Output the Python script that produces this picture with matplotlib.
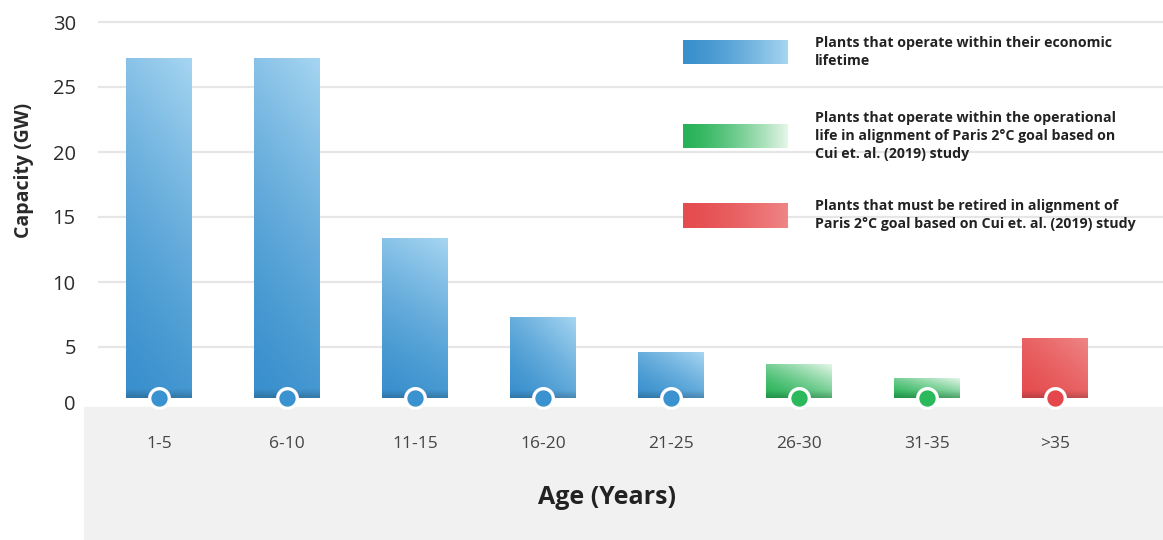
import numpy as np
import matplotlib.pyplot as plt
from matplotlib import colors as mcolors
from matplotlib.patches import Rectangle
import matplotlib.transforms as mtransforms

# coal plant capacity by age group
age_groups = ['1-5', '6-10', '11-15', '16-20', '21-25', '26-30', '31-35', '>35']
capacity_gw = [27.2, 27.2, 13.4, 7.3, 4.6, 3.7, 2.6, 5.7]
status = ['econ', 'econ', 'econ', 'econ', 'econ', 'paris', 'paris', 'retire']

legend_labels = {
    'econ': 'Plants that operate within their economic\nlifetime',
    'paris': 'Plants that operate within the operational\nlife in alignment of Paris 2\u00b0C goal based on\nCui et. al. (2019) study',
    'retire': 'Plants that must be retired in alignment of\nParis 2\u00b0C goal based on Cui et. al. (2019) study',
}

# (dark, light) ends of each gradient
palette = {
    'econ': ('#3990cd', '#a6d5f1'),
    'paris': ('#27b257', '#e4f6e8'),
    'retire': ('#e54c4f', '#ef8585'),
}
dot_color = {'econ': '#3a93d0', 'paris': '#2cb95b', 'retire': '#e5484c'}

W, H = 1163, 540
BAR_BASE = 1.1     # bars float a little above the axis line
BAR_W = 0.515

plt.rcParams['font.family'] = ['Open Sans', 'DejaVu Sans']

fig = plt.figure(figsize=(W / 100, H / 100), dpi=100)
fig.patch.set_facecolor('white')

# grey strip under the x axis
fig.patches.append(Rectangle((84 / W, 0), 1 - 84 / W, 1 - 407 / H,
                             transform=fig.transFigure, color='#f1f1f1', zorder=-1))

ax = fig.add_axes([98 / W, 1 - 412 / H, 1 - 98 / W, (412 - 15) / H])
ax.patch.set_alpha(0)
x = np.arange(len(age_groups))


def gradient(dark, light, diag, ny=120, nx=40):
    d = np.array(mcolors.to_rgb(dark))
    l = np.array(mcolors.to_rgb(light))
    v = np.linspace(0, 1, ny)[:, None]
    h = np.linspace(0, 1, nx)[None, :]
    s = np.clip((1 - diag) * v + diag * h, 0, 1) ** 1.4
    img = d[None, None, :] * (1 - s[..., None]) + l[None, None, :] * s[..., None]
    return img


for xi, val, st in zip(x, capacity_gw, status):
    dark, light = palette[st]
    if st == 'retire':
        img = gradient(dark, light, 0.5)
    else:
        diag = 0.2 if val > 10 else 0.45
        img = gradient(dark, light, diag)
    # soft shadow along the bottom edge
    ny = img.shape[0]
    rows = np.linspace(BAR_BASE, val, ny)
    shade = 1 - 0.18 * np.clip(1 - (rows - BAR_BASE) / 0.6, 0, 1)
    img = img * shade[:, None, None]
    ax.imshow(img, extent=(xi - BAR_W / 2, xi + BAR_W / 2, BAR_BASE, val),
              origin='lower', aspect='auto', interpolation='bilinear', zorder=2)
    ax.scatter([xi], [BAR_BASE - 0.05], s=200, color=dot_color[st],
               edgecolor='white', linewidth=2.4, zorder=4, clip_on=False)

ax.set_xlim(-0.477, 7.84)
ax.set_ylim(0, (412 - 15) / 13)

ax.set_yticks(range(0, 31, 5))
ax.yaxis.grid(True, color='#e6e6e6', linewidth=1.6)
ax.set_axisbelow(True)
ax.tick_params(axis='y', length=0, pad=16, labelsize=14.5, labelcolor='#2b2b2b')
ax.tick_params(axis='x', length=0, pad=17, labelsize=12.5, labelcolor='#454545')
ax.set_xticks(x)
ax.set_xticklabels(age_groups)
for sp in ax.spines.values():
    sp.set_visible(False)

# no grid line at zero, and its label sits a touch higher
ax.yaxis.get_gridlines()[0].set_visible(False)
zero_lbl = ax.get_yticklabels()[0]
zero_lbl.set_transform(zero_lbl.get_transform() +
                       mtransforms.ScaledTranslation(0, 10 / 100, fig.dpi_scale_trans))

fig.text(24 / W, 1 - 170 / H, 'Capacity (GW)', rotation=90, ha='center', va='center',
         fontsize=14, fontweight='bold', color='#2a2a2a')
fig.text(607 / W, 1 - 497 / H, 'Age (Years)', ha='center', va='center',
         fontsize=18, fontweight='bold', color='#222222')

# legend: gradient swatches with text
legend_rows = [('econ', 40, 64, 52), ('paris', 124, 148, 136), ('retire', 203, 228, 215)]
for key, top, bot, mid in legend_rows:
    lax = fig.add_axes([683 / W, 1 - bot / H, 105 / W, (bot - top) / H])
    dark, light = palette[key]
    sw = gradient(dark, light, 1.0, ny=2, nx=100)
    lax.imshow(sw, aspect='auto', interpolation='bilinear')
    lax.axis('off')
    fig.text(815 / W, 1 - mid / H, legend_labels[key], ha='left', va='center',
             fontsize=10.2, fontweight='bold', color='#222222', linespacing=1.35)

fig.savefig('out.png', dpi=100)
